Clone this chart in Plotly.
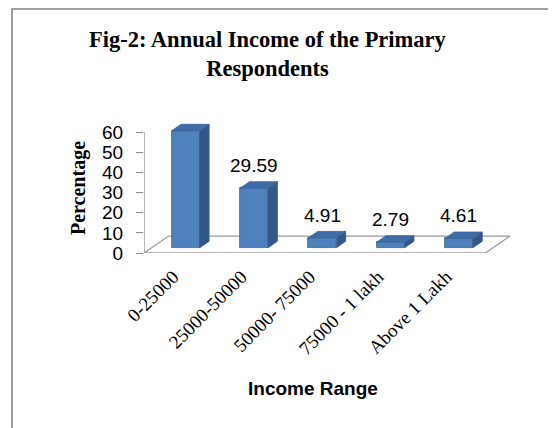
import plotly.graph_objects as go

# ---- data ----
categories = ["0-25000", "25000-50000", "50000- 75000", "75000 - 1 lakh", "Above 1 Lakh"]
percentages = [58.1, 29.59, 4.91, 2.79, 4.61]
y_ticks = [0, 10, 20, 30, 40, 50, 60]

# ---- geometry (3D look) ----
W, H = 556, 428
OFF = 8  # page body margin
L, R, T, B = 144 - OFF, 54, 112 - OFF, 183
plot_w = W - L - R
plot_h = H - T - B
FLOOR_DX, FLOOR_DY = 0.36, 8.4        # depth of the floor in data units
FRONT_F, BACK_F = 0.31, 0.69          # bar front/back depth fractions
BAR_W = 0.41
n = len(categories)
xr = [-0.5, n - 0.5 + FLOOR_DX]
yr = [0, 70]

def px_x(p):  # page pixel -> paper
    return (p - OFF - L) / plot_w

def px_y(p):
    return (H - B - (p - OFF)) / plot_h

fdx, fdy = FLOOR_DX * FRONT_F, FLOOR_DY * FRONT_F
bdx, bdy = FLOOR_DX * BACK_F, FLOOR_DY * BACK_F

FRONT = "#4F81BD"
SIDE = "#34578A"
TOP = "#3F6CA8"
EDGE = "#3A6296"
GRID = "#9C9C9C"

fig = go.Figure()

# floor (below traces)
fx = [-0.5, n - 0.5, n - 0.5 + FLOOR_DX, -0.5 + FLOOR_DX]
fy = [0, 0, FLOOR_DY, FLOOR_DY]
path = "M " + " L ".join(f"{a},{b}" for a, b in zip(fx, fy)) + " Z"
fig.add_shape(type="path", path=path, xref="x", yref="y", layer="below",
              line=dict(color=GRID, width=1.3), fillcolor="white")
# y axis line
fig.add_shape(type="line", xref="x", yref="y", layer="below",
              x0=-0.5, x1=-0.5, y0=0, y1=y_ticks[-1],
              line=dict(color="#8C8C8C", width=1.2))

xs = list(range(n))
# front faces
fig.add_trace(go.Bar(
    x=[i + fdx for i in xs], y=percentages, base=fdy, width=BAR_W,
    marker=dict(color=FRONT, line=dict(color=EDGE, width=0.8)),
    showlegend=False, hoverinfo="skip"))

# side faces and top faces
for i, v in zip(xs, percentages):
    x0 = i + fdx - BAR_W / 2
    x1 = i + fdx + BAR_W / 2
    y0 = fdy
    y1 = fdy + v
    ddx, ddy = bdx - fdx, bdy - fdy
    fig.add_trace(go.Scatter(
        x=[x1, x1 + ddx, x1 + ddx, x1, x1],
        y=[y0, y0 + ddy, y1 + ddy, y1, y0],
        mode="lines", fill="toself", fillcolor=SIDE,
        line=dict(color=SIDE, width=0.8), hoverinfo="skip", showlegend=False))
    fig.add_trace(go.Scatter(
        x=[x0, x1, x1 + ddx, x0 + ddx, x0],
        y=[y1, y1, y1 + ddy, y1 + ddy, y1],
        mode="lines", fill="toself", fillcolor=TOP,
        line=dict(color=EDGE, width=0.8), hoverinfo="skip", showlegend=False))

# data labels
for i, v in zip(xs, percentages):
    fig.add_annotation(x=i + fdx, y=v + bdy + 8, text=f"{v:g}", showarrow=False,
                       xanchor="center", yanchor="middle",
                       font=dict(family="Liberation Sans", size=19, color="#000"))

annots = [
    dict(text="<b>Fig-2: Annual Income of the Primary<br>Respondents</b>",
         x=px_x(268), y=px_y(54), font=dict(family="Liberation Serif", size=22.5, color="#000")),
    dict(text="<b>Percentage</b>", x=px_x(78), y=px_y(188), textangle=-90,
         font=dict(family="Liberation Serif", size=20, color="#000")),
    dict(text="<b>Income Range</b>", x=px_x(313), y=px_y(388),
         font=dict(family="Liberation Sans", size=19, color="#000")),
]
for a in annots:
    fig.add_annotation(xref="paper", yref="paper", showarrow=False,
                       xanchor="center", yanchor="middle", **a)

# frame
fig.add_shape(type="line", xref="paper", yref="paper",
              x0=px_x(12), x1=px_x(560), y0=px_y(9), y1=px_y(9),
              line=dict(color="#A0A0A0", width=2))
fig.add_shape(type="line", xref="paper", yref="paper",
              x0=px_x(12), x1=px_x(12), y0=px_y(8), y1=px_y(440),
              line=dict(color="#A0A0A0", width=2))

fig.update_layout(
    width=W, height=H,
    margin=dict(l=L, r=R, t=T, b=B, pad=0),
    paper_bgcolor="white", plot_bgcolor="rgba(0,0,0,0)",
    bargap=0,
    xaxis=dict(range=xr, tickmode="array", tickvals=xs, ticktext=categories,
               tickangle=-45, showgrid=False, zeroline=False, showline=False,
               ticks="", ticklabelstandoff=8, ticklabelshift=-5,
               tickfont=dict(family="Liberation Serif", size=19, color="#000")),
    yaxis=dict(range=yr, tickmode="array", tickvals=y_ticks, showgrid=False,
               zeroline=False, showline=False, ticks="outside", ticklen=7,
               tickcolor="#8C8C8C", tickwidth=1.2, ticklabelstandoff=9,
               tickfont=dict(family="Liberation Sans", size=19, color="#000")),
)

fig.write_html("out.html")
